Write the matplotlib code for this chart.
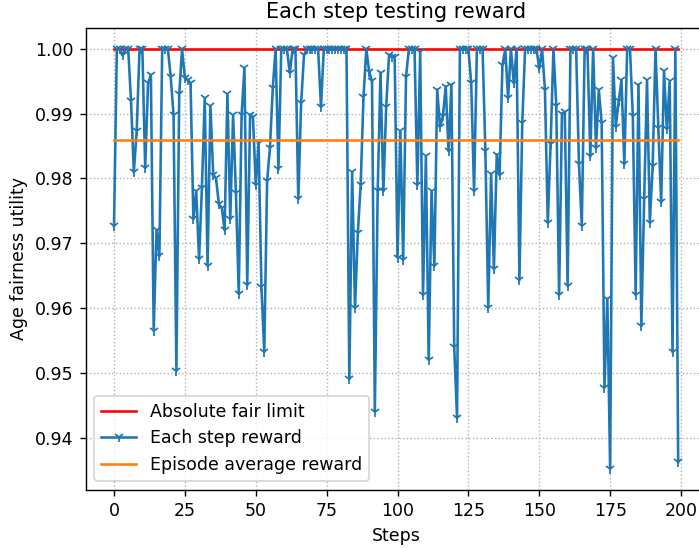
import matplotlib
matplotlib.use("Agg")
import matplotlib.pyplot as plt
import numpy as np

steps = list(range(200))
step_reward = [
    0.9727, 1.0, 1.0, 0.999, 1.0, 1.0, 0.992, 0.981, 0.9873, 1.0,
    1.0, 0.9816, 0.9947, 0.996, 0.9565, 0.972, 0.968, 1.0, 1.0, 1.0,
    0.9957, 0.9898, 0.9503, 0.993, 1.0, 0.9955, 0.9952, 0.9947, 0.9737, 0.978,
    0.9675, 0.9785, 0.9924, 0.9665, 0.9912, 0.9806, 0.980, 0.976, 0.9755, 0.972,
    0.993, 0.9737, 0.9898, 0.9778, 0.9622, 0.9898, 0.997, 0.9635, 0.9898, 0.9895,
    0.979, 0.9855, 0.9632, 0.9532, 0.9796, 0.9847, 0.994, 1.0, 0.9814, 1.0,
    1.0, 1.0, 0.9963, 1.0, 1.0, 0.9768, 0.9916, 0.999, 1.0, 1.0,
    1.0, 1.0, 1.0, 0.991, 1.0, 1.0, 1.0, 1.0, 1.0, 1.0,
    1.0, 1.0, 1.0, 0.949, 0.981, 0.960, 0.9716, 0.979, 0.9926, 1.0,
    0.9965, 0.995, 0.944, 0.978, 0.9963, 0.978, 0.991, 0.999, 0.9988, 0.9987,
    0.9678, 0.9873, 0.9674, 0.9957, 1.0, 1.0, 1.0, 0.979, 0.9996, 0.962,
    0.9834, 0.952, 0.978, 0.9665, 0.9937, 0.988, 0.9896, 0.9942, 0.9842, 0.9945,
    0.954, 0.943, 1.0, 1.0, 1.0, 1.0, 0.9947, 0.978, 1.0, 1.0,
    1.0, 0.9842, 0.960, 0.9807, 0.966, 0.9837, 0.9805, 0.9975, 1.0, 0.9924,
    1.0, 0.9947, 1.0, 0.9643, 0.9886, 1.0, 1.0, 1.0, 1.0, 1.0,
    0.997, 1.0, 0.9937, 0.9732, 0.9853, 1.0, 0.9912, 0.962, 0.990, 0.9902,
    0.9634, 1.0, 1.0, 1.0, 0.9822, 0.9727, 1.0, 1.0, 0.9834, 1.0,
    0.9847, 0.9937, 0.9886, 0.9477, 0.9614, 0.9352, 0.9986, 0.988, 0.9919, 0.9952,
    0.9822, 1.0, 1.0, 0.9896, 0.962, 0.9945, 0.9572, 0.9768, 0.9952, 0.9732,
    0.982, 1.0, 0.9878, 0.9763, 0.9966, 0.9876, 0.995, 0.9532, 1.0, 0.9362,
]
fair_limit = [1.0] * 200
episode_avg = [0.9859] * 200

DPI = 125
fig = plt.figure(figsize=(699 / DPI, 548 / DPI), dpi=DPI)
ax = fig.add_axes([85.8 / 699, 58.4 / 548, 620.6 / 699, 461.6 / 548])

ax.plot(steps, fair_limit, color="red", lw=1.5, label="Absolute fair limit")
ax.plot(steps, step_reward, color="tab:blue", lw=1.5, marker="1", markersize=6,
        label="Each step reward")
ax.plot(steps, episode_avg, color="tab:orange", lw=1.5, label="Episode average reward")

ax.set_xticks([0, 25, 50, 75, 100, 125, 150, 175, 200])
ax.set_yticks([0.94, 0.95, 0.96, 0.97, 0.98, 0.99, 1.00])
ax.set_yticklabels(["0.94", "0.95", "0.96", "0.97", "0.98", "0.99", "1.00"])
ax.tick_params(labelsize=10)
ax.grid(True, linestyle=":", linewidth=0.8, color="#b0b0b0")
ax.set_xlabel("Steps", fontsize=10)
ax.set_ylabel("Age fairness utility", fontsize=10)
ax.set_title("Each step testing reward", fontsize=12)
ax.legend(loc="lower left", fontsize=10)

fig.savefig("out.png", dpi=DPI)
